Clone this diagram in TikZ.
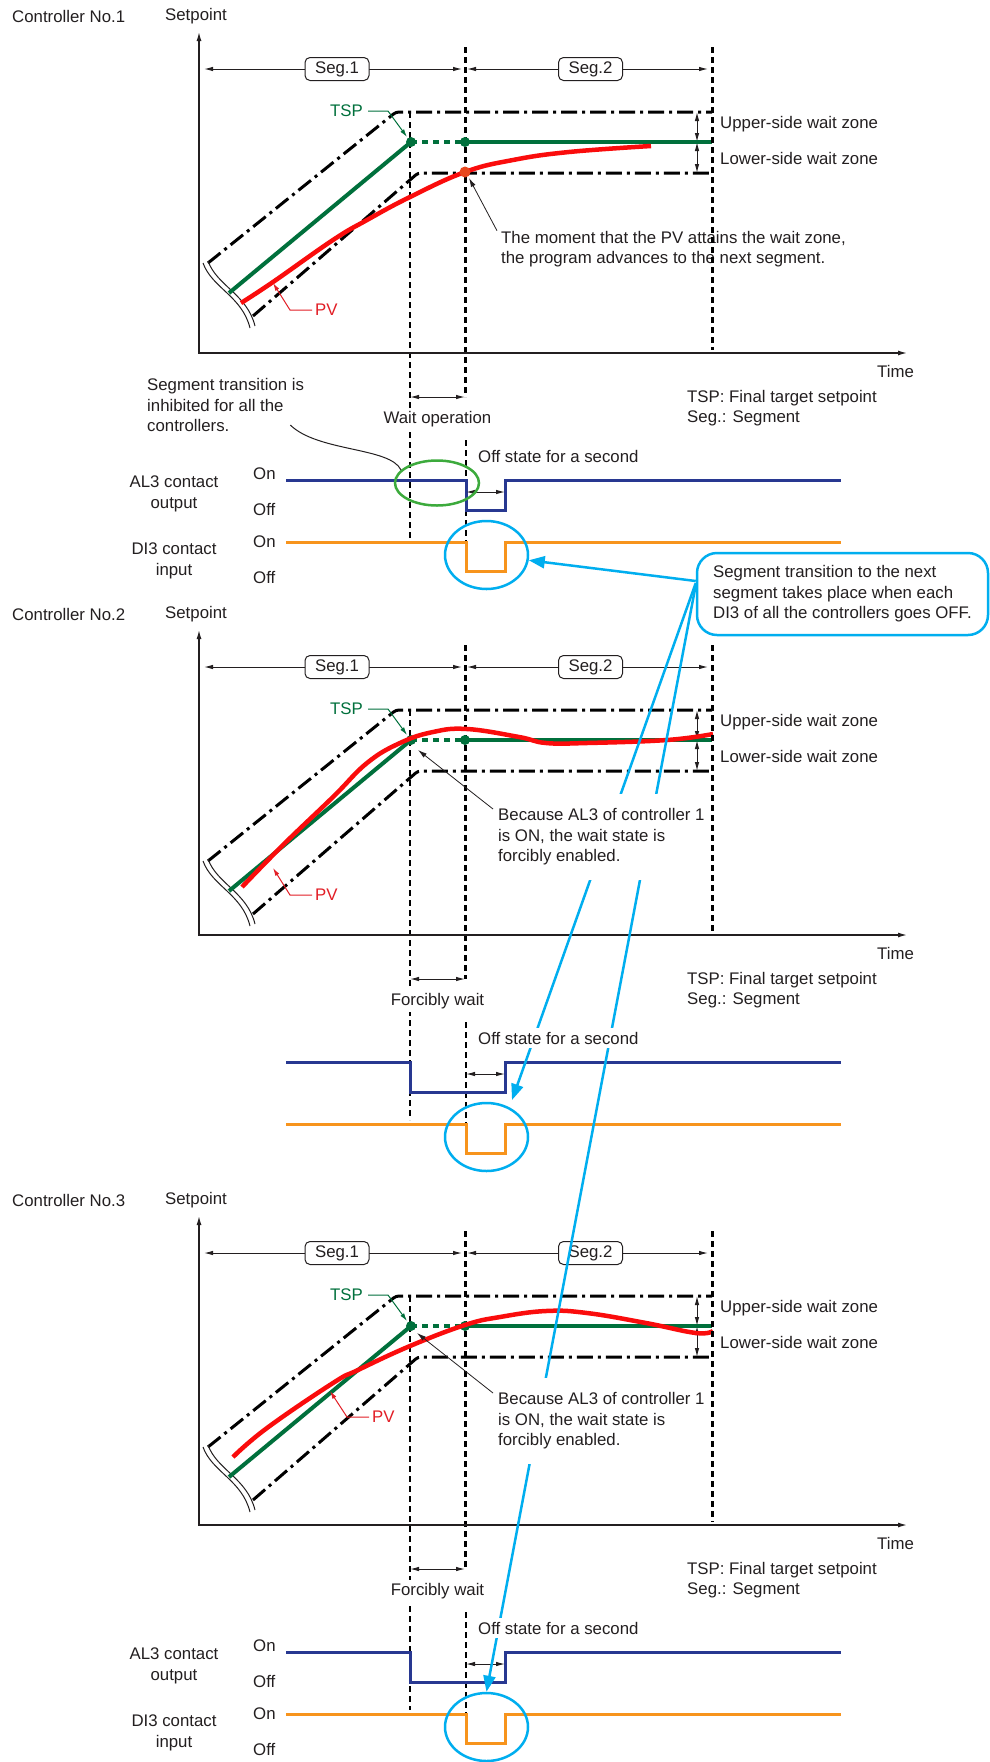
\documentclass[tikz,border=0pt]{standalone}
\usepackage{fontspec}
\setmainfont{Liberation Sans}
\usetikzlibrary{arrows.meta, shapes.geometric}

\definecolor{txt}{RGB}{35,31,32}
\definecolor{tspgreen}{RGB}{0,112,60}
\definecolor{pvred}{RGB}{250,12,12}
\definecolor{pvlabel}{RGB}{226,30,38}
\definecolor{hitdot}{RGB}{232,72,30}
\definecolor{al3blue}{RGB}{40,56,145}
\definecolor{di3orange}{RGB}{247,148,29}
\definecolor{cyanc}{RGB}{0,174,239}
\definecolor{ellgreen}{RGB}{60,170,60}

\tikzset{
  lbl/.style={font=\fontsize{16.8}{20.5}\selectfont, text=txt, inner sep=0pt},
  segbox/.style={lbl, draw=txt, fill=white, rounded corners=5pt, line width=1pt, minimum width=64pt, minimum height=23pt},
  axis/.style={txt, line width=1.3pt, {Latex[length=9pt,width=5pt]}-{Latex[length=9pt,width=5pt]}},
  dimarrow/.style={txt, line width=1pt, {Latex[length=9pt,width=4.5pt]}-{Latex[length=9pt,width=4.5pt]}},
  note/.style={txt, line width=0.8pt, -{Latex[length=9pt,width=5pt]}},
  zone/.style={black, line width=3pt, dash pattern=on 16pt off 5pt on 3pt off 5pt},
  thickdots/.style={black, line width=3pt, dash pattern=on 6pt off 4pt},
  thindash/.style={black, line width=1.3pt, dash pattern=on 6pt off 4pt},
  wavy/.style={txt, line width=1pt},
  tspline/.style={tspgreen, line width=4pt},
  tsplead/.style={tspgreen, line width=1pt, -{Latex[length=8pt,width=4.5pt]}},
  pvline/.style={pvred, line width=4.5pt},
  pvlead/.style={pvlabel, line width=1pt, -{Latex[length=8pt,width=4.5pt]}},
  al3/.style={al3blue, line width=3pt},
  di3/.style={di3orange, line width=3pt},
  ring/.style={ellipse, draw=cyanc, line width=2.5pt, minimum width=83pt, minimum height=68pt, inner sep=0pt},
  pointer/.style={cyanc, line width=2.5pt, -{Triangle[length=16pt,width=12pt]}},
}

\begin{document}
\begin{tikzpicture}[x=1pt, y=-1pt]
\useasboundingbox (0,0) rectangle (989,1762);
\fill[white] (0,0) rectangle (989,1762);

% --- SHARED CHART FRAME (one pass per controller) ---
\foreach \ctl/\yt/\yb/\drop/\wlabel in {1/0/0/466/Wait operation, 2/598/582/410/Forcibly wait, 3/1184/1172/410/Forcibly wait}{
  % guide lines
  \draw[thindash] (410,\yt+112) -- (410,\yb+538);
  \draw[thickdots] (465,\yt+47) -- (465,\yb+397);
  \draw[thindash] (466,\yb+440) -- (466,\yb+542);
  % axes and titles
  \draw[axis] (199,\yt+32) -- (199,\yb+353) -- (907,\yb+353);
  \node[lbl, anchor=west] (ctrl\ctl) at (12,\yt+16) {Controller No.\ctl};
  \node[lbl, anchor=west] (sp\ctl) at (165,\yt+16) {Setpoint};
  \node[lbl, anchor=west] (time\ctl) at (877,\yb+371) {Time};
  \node[lbl, anchor=west, align=left] (legend\ctl) at (687,\yb+408) {TSP: Final target setpoint\\Seg.: Segment};
  % segments
  \draw[dimarrow] (204,\yt+69) -- (462,\yt+69);
  \draw[dimarrow] (467,\yt+69) -- (708,\yt+69);
  \node[segbox] (sega\ctl) at (337,\yt+69) {Seg.1};
  \node[segbox] (segb\ctl) at (590.5,\yt+69) {Seg.2};
  % wait zone
  \draw[zone, rounded corners=3pt] (208,\yt+263) -- (396,\yt+112) -- (712,\yt+112);
  \draw[zone, rounded corners=3pt] (253,\yt+316) -- (418,\yt+173) -- (712,\yt+173);
  \draw[dimarrow] (697,\yt+112) -- (697,\yt+142);
  \draw[dimarrow] (697,\yt+142) -- (697,\yt+173);
  \node[lbl, anchor=west] (up\ctl) at (720,\yt+124) {Upper-side wait zone};
  \node[lbl, anchor=west] (lo\ctl) at (720,\yt+158) {Lower-side wait zone};
  % break mark
  \draw[wavy] (203,\yt+263) .. controls (212,\yt+288) and (242,\yt+296) .. (250,\yt+328);
  \draw[wavy] (208,\yt+261) .. controls (217,\yt+286) and (247,\yt+294) .. (255,\yt+326);
  % TSP
  \draw[tspline] (229,\yt+293) -- (411,\yt+142);
  \draw[tspline, dash pattern=on 6pt off 5pt] (411,\yt+142) -- (465,\yt+142);
  \draw[tspline] (465,\yt+142) -- (712,\yt+142);
  \fill[tspgreen] (411,\yt+142) circle[radius=5pt] (465,\yt+142) circle[radius=5pt];
  \node[lbl, text=tspgreen, anchor=east] (tsp\ctl) at (363,\yt+111) {TSP};
  \draw[tsplead] ([xshift=5pt]tsp\ctl.east) -- (388,\yt+111) -- (407,\yt+137);
  % wait time
  \draw[dimarrow] (410,\yb+397) -- (465,\yb+397);
  \node[lbl, fill=white, inner sep=3pt] (wait\ctl) at (437.5,\yb+419) {\wlabel};
  % contact signals
  \draw[al3] (286,\yb+480) -- (\drop,\yb+480) -- (\drop,\yb+510) -- (505,\yb+510) -- (505,\yb+480) -- (841,\yb+480);
  \draw[di3] (286,\yb+542) -- (466,\yb+542) -- (466,\yb+571) -- (505,\yb+571) -- (505,\yb+542) -- (841,\yb+542);
  \draw[dimarrow] (466,\yb+492) -- (505,\yb+492);
  \node[ring] (di\ctl) at (486.5,\yb+555) {};
}

% On / Off levels (controllers 1 and 3)
\foreach \yb in {0,1172}{
  \node[lbl, anchor=west] (alon\yb) at (253,\yb+474) {On};
  \node[lbl, anchor=west] (aloff\yb) at (253,\yb+509) {Off};
  \node[lbl, anchor=west] (dion\yb) at (253,\yb+542) {On};
  \node[lbl, anchor=west] (dioff\yb) at (253,\yb+577) {Off};
  \node[lbl, align=center] (alname\yb) at (174,\yb+494) {AL3 contact\\output};
  \node[lbl, align=center] (diname\yb) at (174,\yb+561) {DI3 contact\\input};
}

% --- CONTROLLER 1 ---
\draw[pvline] plot[smooth, tension=0.7] coordinates {(241,303) (273,282) (333,240) (367,220) (410,197) (465,172) (513,160) (569,152) (651,146)};
\fill[hitdot] (465,172) circle[radius=5.5pt];
\coordinate (hit1) at (469,178);
\node[lbl, anchor=west, align=left] (note1) at (501,249) {The moment that the PV attains the wait zone,\\the program advances to the next segment.};
\draw[note] ([xshift=-4pt]note1.north west) -- (hit1);
\node[lbl, text=pvlabel, anchor=west] (pv1) at (315,310) {PV};
\draw[pvlead] ([xshift=-3pt]pv1.west) -- (290,310) -- (273,283);
\node[lbl, anchor=west, align=left] (inhib) at (147,405) {Segment transition is\\inhibited for all the\\controllers.};
\node[ellipse, draw=ellgreen, line width=2.5pt, minimum width=84pt, minimum height=45pt] (hold) at (437,483) {};
\draw[txt, line width=1pt] ([shift={(-14pt,-20pt)}]inhib.east) .. controls (318,452) and (390,447) .. (hold.160);

% --- CONTROLLER 2 ---
\draw[pvline] plot[smooth, tension=0.7] coordinates {(242,887) (283,845) (333,797) (367,763) (400,743) (433,732) (467,729) (519,737) (546,743) (587,743) (667,740) (713,734)};
\node[lbl, text=pvlabel, anchor=west] (pv2) at (315,895) {PV};
\draw[pvlead] ([xshift=-3pt]pv2.west) -- (290,895) -- (273,868);

% --- CONTROLLER 3 ---
\draw[pvline] plot[smooth, tension=0.7] coordinates {(233,1457) (267,1428) (333,1383) (358,1370) (410,1346) (465,1325) (500,1317) (546,1311) (587,1313) (646,1323) (696,1333) (713,1331)};
\node[lbl, text=pvlabel, anchor=west] (pv3) at (372,1417) {PV};
\draw[pvlead] ([xshift=-3pt]pv3.west) -- (347,1417) -- (330,1391);

% --- DI3 CALLOUT ---
\node[lbl, draw=cyanc, line width=2.5pt, rounded corners=20pt, minimum width=291pt, minimum height=82pt, align=left] (callout) at (842.5,594) {Segment transition to the next\\segment takes place when each\\DI3 of all the controllers goes OFF.};
\coordinate (tip2) at (512,1100);
\draw[pointer] ([yshift=13pt]callout.west) -- (di1);
\draw[pointer] ([yshift=11pt]callout.west) -- (tip2);
\draw[pointer] ([yshift=9pt]callout.west) -- (di3.north);

% forced wait notes (on top of the pointers)
\node[lbl, fill=white, anchor=west, align=left, inner xsep=2pt, inner ysep=15pt] (note2) at (496,837) {Because AL3 of controller 1\\is ON, the wait state is\\forcibly enabled.};
\coordinate (forced2) at (418,750);
\draw[note] ([shift={(-3pt,28pt)}]note2.west) -- (forced2);
\node[lbl, fill=white, anchor=west, align=left, inner xsep=2pt, inner ysep=15pt] (note3) at (496,1421) {Because AL3 of controller 1\\is ON, the wait state is\\forcibly enabled.};
\coordinate (forced3) at (417,1333);
\draw[note] ([shift={(-3pt,28pt)}]note3.west) -- (forced3);
\foreach \ctl/\yb in {1/0, 2/582, 3/1172}
  \node[lbl, fill=white, anchor=west, inner xsep=2pt, inner ysep=4pt] (offsec\ctl) at (476,\yb+456) {Off state for a second};

% segment ends
\foreach \yt/\yb in {0/0, 598/582, 1184/1172}
  \draw[thickdots] (712,\yt+47) -- (712,\yb+350);

\end{tikzpicture}
\end{document}
